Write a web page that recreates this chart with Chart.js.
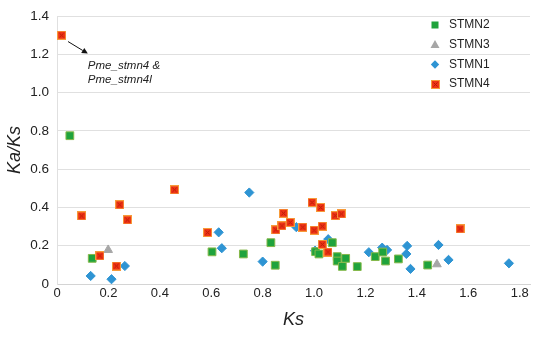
<!DOCTYPE html>
<html><head><meta charset="utf-8">
<script src="https://cdn.jsdelivr.net/npm/chart.js@4/dist/chart.umd.min.js"></script>
<style>html,body{margin:0;padding:0;background:#fff}#wrap{width:550px;height:337px;position:relative}</style>
</head><body><div id="wrap"><canvas id="c" width="550" height="337"></canvas></div>
<script>
const seriesNames = ['STMN2', 'STMN3', 'STMN1', 'STMN4'];

const stmn2Ks   = [0.05, 0.137, 0.603, 0.725, 0.832, 0.849, 1.006, 1.019, 1.071, 1.09, 1.09, 1.123, 1.11, 1.168, 1.238, 1.267, 1.278, 1.328, 1.442];
const stmn2KaKs = [0.775, 0.134, 0.168, 0.157, 0.216, 0.098, 0.169, 0.157, 0.216, 0.143, 0.12, 0.134, 0.092, 0.091, 0.143, 0.167, 0.12, 0.131, 0.099];

const stmn3Ks   = [0.199, 1.478];
const stmn3KaKs = [0.178, 0.103];

const stmn1Ks   = [0.131, 0.212, 0.264, 0.629, 0.641, 0.748, 0.8, 0.931, 1.004, 1.055, 1.213, 1.265, 1.284, 1.362, 1.359, 1.375, 1.484, 1.523, 1.758];
const stmn1KaKs = [0.042, 0.025, 0.094, 0.27, 0.187, 0.478, 0.117, 0.297, 0.174, 0.234, 0.166, 0.19, 0.178, 0.199, 0.157, 0.079, 0.204, 0.126, 0.108];

const stmn4Ks   = [0.018, 0.096, 0.167, 0.231, 0.244, 0.274, 0.457, 0.586, 0.851, 0.875, 0.881, 0.907, 0.956, 0.992, 1.0, 1.026, 1.032, 1.032, 1.054, 1.082, 1.106, 1.568];
const stmn4KaKs = [1.30, 0.356, 0.147, 0.094, 0.414, 0.335, 0.492, 0.269, 0.283, 0.304, 0.37, 0.322, 0.297, 0.426, 0.281, 0.40, 0.302, 0.207, 0.167, 0.357, 0.366, 0.288];

const xTickValues = [0, 0.2, 0.4, 0.6, 0.8, 1.0, 1.2, 1.4, 1.6, 1.8];
const xTickLabels = ['0', '0.2', '0.4', '0.6', '0.8', '1.0', '1.2', '1.4', '1.6', '1.8'];
const yTickValues = [0, 0.2, 0.4, 0.6, 0.8, 1.0, 1.2, 1.4];
const yTickLabels = ['0', '0.2', '0.4', '0.6', '0.8', '1.0', '1.2', '1.4'];

const annotationLines = ['Pme_stmn4 &', 'Pme_stmn4l'];

const FAM = '"Liberation Sans", Arial, Helvetica, sans-serif';

function pts(xs, ys) { return xs.map((x, i) => ({ x: x, y: ys[i] })); }

function makeRedMarker() {
  const c = document.createElement('canvas');
  c.width = 9; c.height = 9;
  const g = c.getContext('2d');
  g.fillStyle = '#f79a3a'; g.fillRect(0, 0, 9, 9);
  g.fillStyle = '#ee3416'; g.fillRect(1, 1, 7, 7);
  g.strokeStyle = '#b81a05'; g.lineWidth = 1;
  g.beginPath();
  g.moveTo(2.5, 2.5); g.lineTo(6.5, 6.5);
  g.moveTo(6.5, 2.5); g.lineTo(2.5, 6.5);
  g.stroke();
  return c;
}
const redMarker = makeRedMarker();

const styles = {
  STMN2: { pointStyle: 'rect', pointRadius: 5.5, backgroundColor: '#1fa33c', borderColor: '#86b94c', borderWidth: 1 },
  STMN3: { pointStyle: 'triangle', pointRadius: 5, backgroundColor: '#a6a6a6', borderColor: '#a6a6a6', borderWidth: 1 },
  STMN1: { pointStyle: 'rectRot', pointRadius: 4.6, backgroundColor: '#2e94d3', borderColor: '#2e94d3', borderWidth: 1 },
  STMN4: { pointStyle: redMarker, pointRadius: 5, backgroundColor: '#ee3416', borderColor: '#f79a3a', borderWidth: 0 }
};

const legendPlugin = {
  id: 'customLegend',
  afterDraw(chart) {
    const ctx = chart.ctx;
    const ys = [25, 44.5, 64.5, 84];
    const mx = 435, tx = 449;
    ctx.save();
    seriesNames.forEach((name, i) => {
      const y = ys[i];
      const s = styles[name];
      ctx.fillStyle = s.backgroundColor;
      ctx.strokeStyle = s.borderColor;
      ctx.lineWidth = 1;
      if (name === 'STMN2') {
        ctx.fillRect(mx - 3.5, y - 3.5, 7, 7);
      } else if (name === 'STMN3') {
        ctx.beginPath(); ctx.moveTo(mx, y - 4.5); ctx.lineTo(mx + 4.5, y + 3.5); ctx.lineTo(mx - 4.5, y + 3.5); ctx.closePath(); ctx.fill();
      } else if (name === 'STMN1') {
        ctx.beginPath(); ctx.moveTo(mx, y - 4.2); ctx.lineTo(mx + 4.2, y); ctx.lineTo(mx, y + 4.2); ctx.lineTo(mx - 4.2, y); ctx.closePath(); ctx.fill();
      } else {
        ctx.drawImage(redMarker, Math.round(mx - 4.5), Math.round(y - 4.5));
      }
      ctx.fillStyle = '#222';
      ctx.font = '12px ' + FAM;
      ctx.textBaseline = 'middle';
      ctx.textAlign = 'left';
      ctx.fillText(name, tx, y);
    });
    ctx.restore();
  }
};

const annotationPlugin = {
  id: 'annot',
  afterDatasetsDraw(chart) {
    const ctx = chart.ctx, xs = chart.scales.x, ys = chart.scales.y;
    const x0 = xs.getPixelForValue(0.043), y0 = ys.getPixelForValue(1.267);
    const x1 = xs.getPixelForValue(0.12), y1 = ys.getPixelForValue(1.204);
    ctx.save();
    ctx.strokeStyle = '#111'; ctx.fillStyle = '#111'; ctx.lineWidth = 1;
    const ang = Math.atan2(y1 - y0, x1 - x0);
    const hl = 6, hw = 3;
    const bx = x1 - hl * Math.cos(ang), by = y1 - hl * Math.sin(ang);
    ctx.beginPath(); ctx.moveTo(x0, y0); ctx.lineTo(bx, by); ctx.stroke();
    ctx.beginPath();
    ctx.moveTo(x1, y1);
    ctx.lineTo(bx + hw * Math.sin(ang), by - hw * Math.cos(ang));
    ctx.lineTo(bx - hw * Math.sin(ang), by + hw * Math.cos(ang));
    ctx.closePath(); ctx.fill();
    ctx.fillStyle = '#222';
    ctx.font = 'italic 11.5px ' + FAM;
    ctx.textBaseline = 'middle'; ctx.textAlign = 'left';
    const tx = xs.getPixelForValue(0.12);
    ctx.fillText(annotationLines[0], tx, ys.getPixelForValue(1.141));
    ctx.fillText(annotationLines[1], tx, ys.getPixelForValue(1.068));
    ctx.restore();
  }
};

function ds(name, xs, ysv, order) {
  return Object.assign({ label: name, data: pts(xs, ysv), order: order, pointHoverRadius: 5 }, styles[name]);
}

new Chart(document.getElementById('c'), {
  type: 'scatter',
  data: {
    datasets: [
      ds('STMN2', stmn2Ks, stmn2KaKs, 1),
      ds('STMN3', stmn3Ks, stmn3KaKs, 2),
      ds('STMN1', stmn1Ks, stmn1KaKs, 3),
      ds('STMN4', stmn4Ks, stmn4KaKs, 0)
    ]
  },
  options: {
    responsive: false,
    animation: false,
    devicePixelRatio: 1,
    layout: { padding: { top: 16, right: 20, left: 0, bottom: 0 } },
    plugins: { legend: { display: false }, tooltip: { enabled: false } },
    scales: {
      x: {
        type: 'linear', min: 0, max: 1.84,
        afterFit(s) { s.height = 53; },
        afterBuildTicks(s) { s.ticks = xTickValues.map(v => ({ value: v })); },
        ticks: { callback: (v, i) => xTickLabels[i], font: { size: 13, family: FAM }, color: '#222', padding: 2, maxRotation: 0, autoSkip: false },
        grid: { display: false, drawTicks: false },
        border: { display: true, color: '#d4d4d4' },
        title: { display: true, text: 'Ks', font: { size: 18, style: 'italic', family: FAM }, color: '#222', padding: { top: 0, bottom: 6 } }
      },
      y: {
        type: 'linear', min: 0, max: 1.4,
        afterFit(s) { s.width = 57; },
        afterBuildTicks(s) { s.ticks = yTickValues.map(v => ({ value: v })); },
        ticks: { callback: (v, i) => yTickLabels[i], font: { size: 13.5, family: FAM }, color: '#222', padding: 8, autoSkip: false },
        grid: { color: '#e0e0e0', drawTicks: false },
        border: { display: true, color: '#e0e0e0' },
        title: { display: true, text: 'Ka/Ks', font: { size: 18, style: 'italic', family: FAM }, color: '#222', padding: { top: 4, bottom: 0 } }
      }
    }
  },
  plugins: [legendPlugin, annotationPlugin]
});
</script>
</body></html>
